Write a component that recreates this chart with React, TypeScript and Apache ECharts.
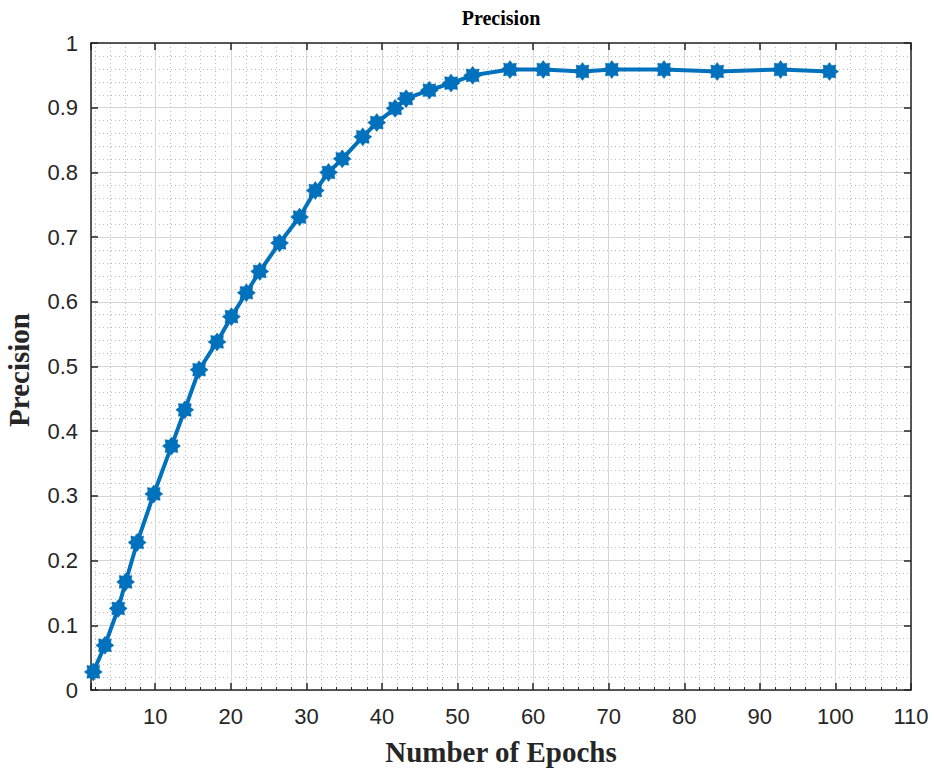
import React, { useEffect, useRef } from 'react';
import * as echarts from 'echarts';

const epochs = [1.8, 3.34, 5.1, 6.08, 7.61, 9.81, 12.15, 13.91, 15.8, 18.18, 20.08, 22.06, 23.82, 26.45, 29.1, 31.18, 32.93, 34.74, 37.46, 39.31, 41.74, 43.2, 46.27, 49.14, 52.0, 56.94, 61.34, 66.53, 70.41, 77.32, 84.36, 92.74, 99.21];
const precision = [0.028, 0.069, 0.126, 0.167, 0.228, 0.303, 0.377, 0.433, 0.495, 0.538, 0.577, 0.614, 0.647, 0.691, 0.731, 0.772, 0.8, 0.821, 0.855, 0.877, 0.899, 0.914, 0.927, 0.938, 0.95, 0.959, 0.959, 0.956, 0.959, 0.959, 0.956, 0.959, 0.956];
const titleText = 'Precision';
const xName = 'Number of Epochs';
const yName = 'Precision';

function starPath(): string {
  const pts: string[] = [];
  for (let i = 0; i < 16; i++) {
    const a = (i * Math.PI) / 8 - Math.PI / 2;
    const r = i % 2 === 0 ? 10 : 7;
    pts.push(`${(Math.cos(a) * r).toFixed(2)} ${(Math.sin(a) * r).toFixed(2)}`);
  }
  return 'path://M' + pts.join(' L') + ' Z';
}

export default function App() {
  const ref = useRef<HTMLDivElement>(null);
  useEffect(() => {
    if (!ref.current) return;
    const chart = echarts.init(ref.current, undefined, { renderer: 'svg' });
    const labelFont = { fontFamily: 'Liberation Sans', fontSize: 22, color: '#262626' };
    const data = epochs.map((x, i) => [x, precision[i]]);
    const xCommon = {
      type: 'value' as const,
      min: 1.5,
      max: 110,
      splitNumber: 11,
    };
    const axisLine = { show: true, onZero: false, lineStyle: { color: '#262626', width: 1.5 } };
    const tick = { show: true, inside: true, length: 7, lineStyle: { color: '#262626', width: 1.5 } };
    chart.setOption({
      animation: false,
      backgroundColor: '#ffffff',
      grid: { left: 91, right: 27, top: 43, bottom: 82, containLabel: false },
      graphic: [
        {
          type: 'text', x: 501, y: 18,
          style: { text: titleText, font: 'bold 20px "Liberation Serif"', fill: '#000', align: 'center', verticalAlign: 'middle' },
        },
        {
          type: 'text', x: 501, y: 752,
          style: { text: xName, font: 'bold 29px "Liberation Serif"', fill: '#262626', align: 'center', verticalAlign: 'middle' },
        },
        {
          type: 'text', x: 19, y: 370, rotation: Math.PI / 2,
          style: { text: yName, font: 'bold 29px "Liberation Serif"', fill: '#262626', align: 'center', verticalAlign: 'middle' },
        },
      ],
      xAxis: [
        {
          ...xCommon,
          position: 'bottom',
          axisLine,
          axisTick: tick,
          minorTick: { show: true, splitNumber: 5, length: 3, lineStyle: { color: '#262626' } },
          axisLabel: {
            ...labelFont, margin: 15,
            formatter: (v: number) => (Math.abs(v % 10) < 1e-9 ? String(v) : ''),
          },
          splitLine: { show: true, lineStyle: { color: '#d6d6d6', width: 1 } },
          minorSplitLine: { show: true, lineStyle: { color: '#bdbdbd', width: 1, type: [1, 3] } },
        },
        {
          ...xCommon,
          position: 'top',
          axisLine,
          axisTick: tick,
          axisLabel: { show: false },
          splitLine: { show: false },
        },
      ],
      yAxis: [
        {
          type: 'value', min: 0, max: 1, interval: 0.1,
          position: 'left',
          axisLine,
          axisTick: tick,
          minorTick: { show: false, splitNumber: 5 },
          axisLabel: { ...labelFont, margin: 13, formatter: (v: number) => (v === 0 ? '0' : v === 1 ? '1' : v.toFixed(1)) },
          splitLine: { show: true, lineStyle: { color: '#d6d6d6', width: 1 } },
          minorSplitLine: { show: true, lineStyle: { color: '#bdbdbd', width: 1, type: [1, 3] } },
        },
        {
          type: 'value', min: 0, max: 1, interval: 0.1,
          position: 'right',
          axisLine,
          axisTick: tick,
          axisLabel: { show: false },
          splitLine: { show: false },
        },
      ],
      series: [
        {
          type: 'line',
          xAxisIndex: 0,
          yAxisIndex: 0,
          data,
          symbol: starPath(),
          symbolSize: 18,
          showAllSymbol: true,
          lineStyle: { color: '#0072BD', width: 4 },
          itemStyle: { color: '#0072BD', borderColor: '#0062a8', borderWidth: 0.5 },
          clip: false,
        },
      ],
    });
    return () => chart.dispose();
  }, []);
  return <div ref={ref} style={{ width: 938, height: 772, position: 'absolute', left: 0, top: 0 }} />;
}
